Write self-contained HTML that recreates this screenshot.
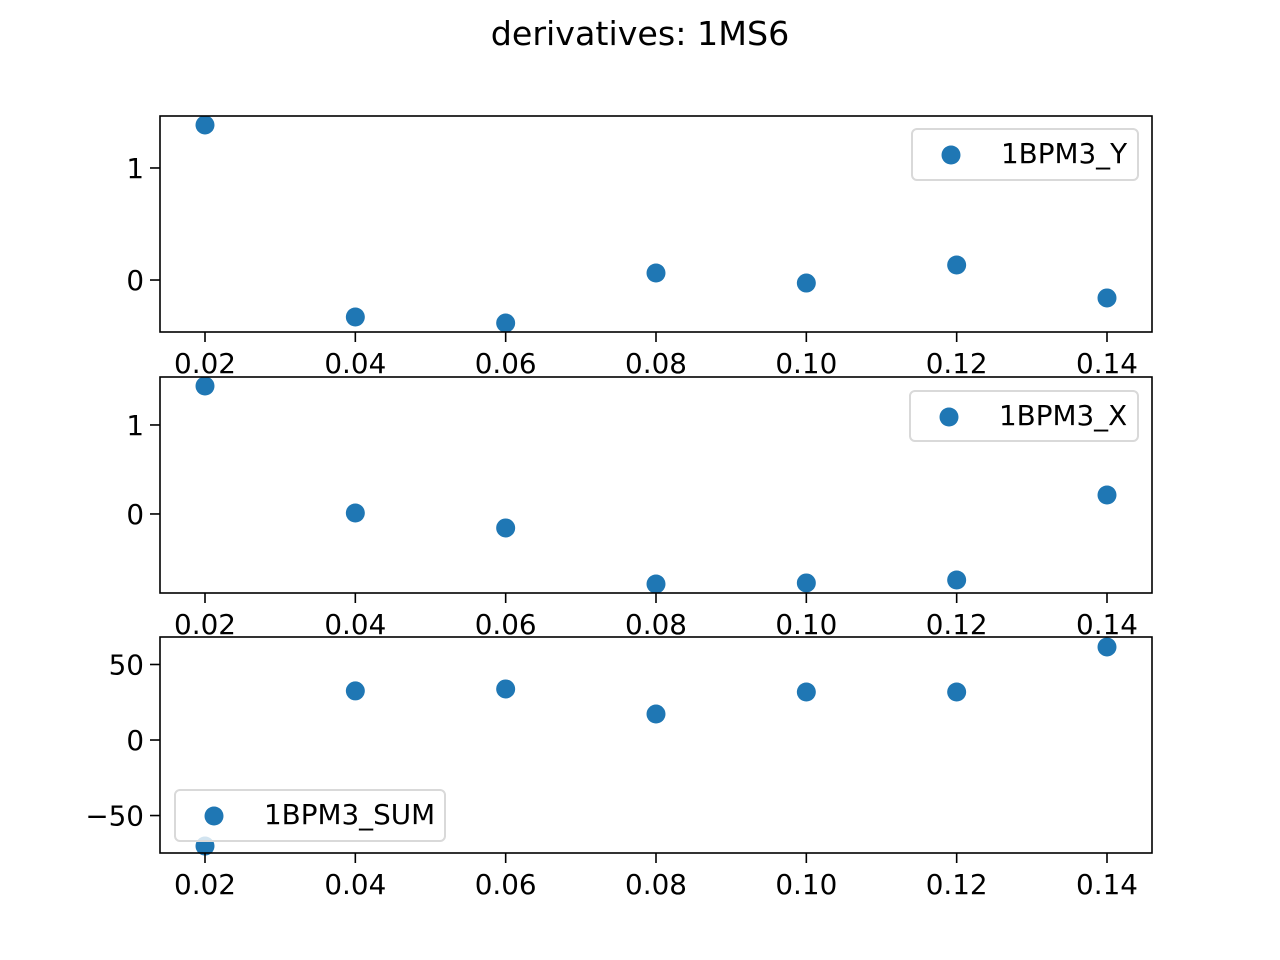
<!DOCTYPE html>
<html><head><meta charset="utf-8"><style>
html,body{margin:0;padding:0;background:#fff}
svg{display:block}
text{font-family:"DejaVu Sans","Liberation Sans",sans-serif;font-size:27.8px;fill:#000}
#title{font-size:33.3px}
</style></head><body>
<svg id="fig" width="1280" height="960">
<text id="title" x="640" y="45" text-anchor="middle">derivatives: 1MS6</text>
</svg>
<script>
const xValues=[0.02,0.04,0.06,0.08,0.10,0.12,0.14];
const xTickLabels=["0.02","0.04","0.06","0.08","0.10","0.12","0.14"];
const seriesY=[1.384,-0.33,-0.384,0.0625,-0.027,0.134,-0.16];
const seriesX=[1.438,0.011,-0.157,-0.787,-0.775,-0.742,0.213];
const seriesSum=[-70.2,32.5,33.8,17.2,31.8,31.8,61.6];
const yTicksY=[0,1], yTickLabelsY=["0","1"];
const yTicksX=[0,1], yTickLabelsX=["0","1"];
const yTicksSum=[-50,0,50], yTickLabelsSum=["\u221250","0","50"];
const panels=[
 {name:"1BPM3_Y",vals:seriesY,top:116,bot:332,ymin:-0.464,ymax:1.464,ticks:yTicksY,tl:yTickLabelsY,leg:[912,129,226,51]},
 {name:"1BPM3_X",vals:seriesX,top:377,bot:593,ymin:-0.888,ymax:1.539,ticks:yTicksX,tl:yTickLabelsX,leg:[910,391,228,50]},
 {name:"1BPM3_SUM",vals:seriesSum,top:637,bot:853,ymin:-74.8,ymax:68.2,ticks:yTicksSum,tl:yTickLabelsSum,leg:[175,790,270,51]}
];
const L=160,R=1152,NS="http://www.w3.org/2000/svg";
const svg=document.getElementById('fig');
function xs(v){return 205+(v-0.02)/0.12*(1107-205);}
function mk(tag,attrs,parent){const e=document.createElementNS(NS,tag);for(const k in attrs)e.setAttribute(k,attrs[k]);(parent||svg).appendChild(e);return e;}
panels.forEach((p,i)=>{
 const g=mk('g',{});
 
 
 const ys=v=>p.bot-(v-p.ymin)/(p.ymax-p.ymin)*(p.bot-p.top);
 p.vals.forEach((v,j)=>{
  const c=mk('circle',{cx:xs(xValues[j]),cy:ys(v),r:9.5,fill:'#1f77b4'},g);
  
  
 });
 const fr=mk('rect',{x:L,y:p.top,width:R-L,height:p.bot-p.top,fill:'none',stroke:'#000','stroke-width':1.6},g);
 
 
 xValues.forEach((v,j)=>{
  const x=xs(v);
  mk('line',{x1:x,x2:x,y1:p.bot,y2:p.bot+10,stroke:'#000','stroke-width':1.6},g);
  const t=mk('text',{x:x,y:p.bot+41,'text-anchor':'middle'},g);
  t.textContent=xTickLabels[j];
  
  
 });
 p.ticks.forEach((v,j)=>{
  const y=ys(v);
  mk('line',{x1:L-10,x2:L,y1:y,y2:y,stroke:'#000','stroke-width':1.6},g);
  const t=mk('text',{x:L-16,y:y+10,'text-anchor':'end'},g);
  t.textContent=p.tl[j];
  
  
 });
 const [lx,ly,lw,lh]=p.leg;
 const lg=mk('g',{},g);
 
 
 mk('rect',{x:lx,y:ly,width:lw,height:lh,rx:5,fill:'#fff','fill-opacity':0.8,stroke:'#d9d9d9','stroke-width':2},lg);
 mk('circle',{cx:lx+39,cy:ly+26,r:9.5,fill:'#1f77b4'},lg);
 const lt=mk('text',{x:lx+89,y:ly+34},lg);
 lt.textContent=p.name;
 
 
});
</script>
</body></html>
